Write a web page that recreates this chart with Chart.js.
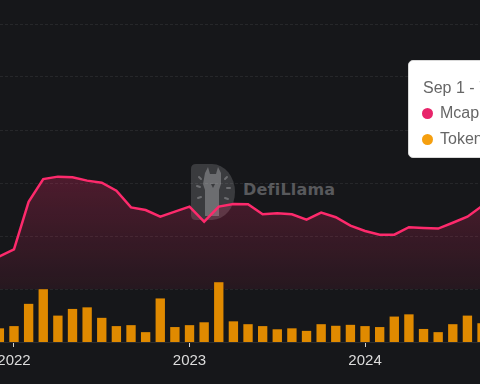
<!DOCTYPE html>
<html>
<head>
<meta charset="utf-8">
<script src="https://cdn.jsdelivr.net/npm/chart.js@4.4.1/dist/chart.umd.min.js"></script>
<style>
  html, body { margin: 0; padding: 0; background: #16171a; }
  #wrap { position: relative; width: 480px; height: 384px; overflow: hidden; background: #16171a; }
  #chart { position: absolute; left: 0; top: 0; z-index: 2; }
  .mark { position: absolute; left: 191px; top: 164px; z-index: 1; }
  .mark-text { position: absolute; left: 243px; top: 180px; z-index: 1;
    font: bold 16px "DejaVu Sans", sans-serif; color: #58595c; letter-spacing: 0.2px; }
  .tip { position: absolute; left: 408px; top: 60px; width: 160px; height: 96px; z-index: 3;
    background: #ffffff; border: 1px solid #d9d9d9; border-radius: 5px;
    font: 16px "Liberation Sans", Arial, sans-serif; color: #666666; white-space: nowrap; }
  .tip .date { position: absolute; left: 14px; top: 18px; }
  .tip .row { position: absolute; left: 31px; }
  .tip .dot { position: absolute; left: -18px; top: 4px; width: 11px; height: 11px; border-radius: 50%; }
</style>
</head>
<body>
<div id="wrap">
  <svg class="mark" width="46" height="56" viewBox="0 0 46 56">
    <path d="M5 0 H21 A23 28 0 0 1 21 56 H5 Q0 56 0 51 V5 Q0 0 5 0 Z" fill="#3a3b3e"/>
    <path d="M14 9 L17 3 L19 10 L25 10 L27 3 L30 9 L30 20 L28 26 L28 52 L14 52 L14 26 L12 20 Z" fill="#6c6d70"/>
    <path d="M20 20 L24 20 L22 24 Z" fill="#3a3b3e"/>
    <g stroke="#6c6d70" stroke-width="2" stroke-linecap="round">
      <line x1="6" y1="22" x2="9" y2="23"/>
      <line x1="8" y1="13" x2="10" y2="15"/>
      <line x1="36" y1="13" x2="34" y2="15"/>
      <line x1="39" y1="24" x2="36" y2="24"/>
      <line x1="37" y1="35" x2="34" y2="34"/>
      <line x1="7" y1="34" x2="10" y2="33"/>
    </g>
  </svg>
  <div class="mark-text">DefiLlama</div>
  <canvas id="chart" width="480" height="384"></canvas>
  <div class="tip">
    <div class="date">Sep 1 - 7, 2024</div>
    <div class="row" style="top:43px"><span class="dot" style="background:#e8246a"></span>Mcap: $31.3m</div>
    <div class="row" style="top:69px"><span class="dot" style="background:#f59f0f"></span>Token Incentives: $5.9m</div>
  </div>
</div>
<script>
  // monthly points, Dec 2021 .. Sep 2024
  const months = [
    '2021-12',
    '2022-01', '2022-02', '2022-03', '2022-04', '2022-05', '2022-06',
    '2022-07', '2022-08', '2022-09', '2022-10', '2022-11', '2022-12',
    '2023-01', '2023-02', '2023-03', '2023-04', '2023-05', '2023-06',
    '2023-07', '2023-08', '2023-09', '2023-10', '2023-11', '2023-12',
    '2024-01', '2024-02', '2024-03', '2024-04', '2024-05', '2024-06',
    '2024-07', '2024-08', '2024-09'
  ];

  // market cap, $m
  const mcap = [
    12.3, 15.0, 32.9, 41.5, 42.4, 42.2, 40.9, 40.1, 37.1, 30.8, 29.8, 27.3,
    29.2, 31.1, 25.4, 31.1, 32.1, 32.0, 28.2, 28.6, 28.2, 26.2, 28.8, 27.1,
    23.9, 21.9, 20.5, 20.5, 23.3, 23.0, 22.8, 25.0, 27.3, 31.3
  ];

  // token incentives, $m
  const tokenIncentives = [
    4.3, 5.0, 12.0, 16.6, 8.3, 10.4, 10.9, 7.6, 5.0, 5.3, 3.1, 13.7,
    4.7, 5.3, 6.2, 18.8, 6.5, 5.6, 5.0, 4.0, 4.3, 3.5, 5.6, 5.1,
    5.4, 5.0, 4.7, 8.0, 8.7, 4.1, 3.1, 5.6, 8.3, 5.9
  ];

  const yearTicks = ['2022', '2023', '2024'];
  const yearTickPos = yearTicks.map(y => months.indexOf(y + '-01'));

  const lineColor = '#fd2a6c';
  const barColor = '#e08a00';

  const ctx = document.getElementById('chart').getContext('2d');

  const fillGradient = (context) => {
    const chart = context.chart;
    if (!chart.chartArea) {
      return 'transparent';
    }
    const top = chart.scales.y.getPixelForValue(45);
    const bottom = chart.scales.y.getPixelForValue(0);
    const g = chart.ctx.createLinearGradient(0, top, 0, bottom);
    g.addColorStop(0, 'rgba(253, 42, 108, 0.25)');
    g.addColorStop(1, 'rgba(253, 42, 108, 0.07)');
    return g;
  };

  new Chart(ctx, {
    type: 'bar',
    data: {
      datasets: [
        {
          type: 'line',
          label: 'Mcap',
          data: mcap.map((v, i) => ({ x: i, y: v })),
          yAxisID: 'y',
          borderColor: lineColor,
          borderWidth: 2.5,
          backgroundColor: fillGradient,
          fill: 'origin',
          tension: 0,
          pointRadius: 0,
          order: 2
        },
        {
          type: 'bar',
          label: 'Token Incentives',
          data: tokenIncentives.map((v, i) => ({ x: i, y: v })),
          yAxisID: 'y1',
          backgroundColor: barColor,
          borderWidth: 0,
          categoryPercentage: 0.8,
          barPercentage: 0.8,
          order: 1
        }
      ]
    },
    options: {
      responsive: false,
      animation: false,
      devicePixelRatio: 1,
      layout: { padding: { top: 24, bottom: 0, left: 0, right: 0 } },
      scales: {
        x: {
          type: 'linear',
          min: 0.043,
          max: 32.86,
          offset: false,
          afterBuildTicks: (axis) => {
            axis.ticks = yearTickPos.map(v => ({ value: v }));
          },
          afterFit: (axis) => {
            axis.height = 42;
            axis.paddingLeft = 0;
            axis.paddingRight = 0;
          },
          grid: { drawOnChartArea: false, drawTicks: true, tickLength: 5, color: '#d0d0d0', offset: false },
          border: { display: true, color: '#2c2d30' },
          ticks: {
            autoSkip: false,
            maxRotation: 0,
            padding: 5,
            color: '#dcdcdc',
            font: { size: 15, family: '"Liberation Sans", Arial, sans-serif' },
            callback: (value) => yearTicks[yearTickPos.indexOf(value)]
          }
        },
        y: {
          position: 'left',
          min: -20,
          max: 100,
          afterFit: (axis) => { axis.width = 0; },
          ticks: { display: false, stepSize: 20 },
          grid: { color: 'rgba(255, 255, 255, 0.07)', drawTicks: false },
          border: { display: false, dash: [3, 2] }
        },
        y1: {
          position: 'right',
          min: 0,
          max: 100,
          display: false
        }
      },
      plugins: {
        legend: { display: false },
        tooltip: { enabled: false }
      }
    }
  });
</script>
</body>
</html>
